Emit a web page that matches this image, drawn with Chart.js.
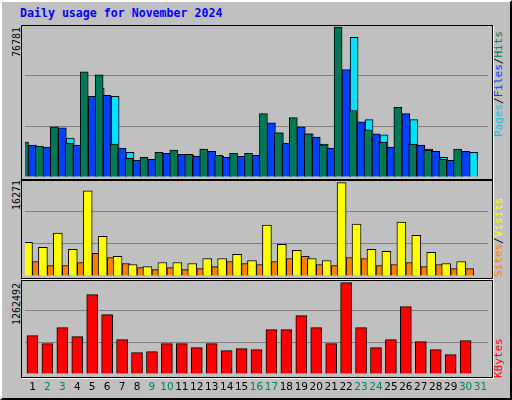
<!DOCTYPE html>
<html><head><meta charset="utf-8">
<script src="https://cdn.jsdelivr.net/npm/chart.js@4"></script>
<style>
html,body{margin:0;padding:0;background:#fff}
#wrap{position:absolute;left:0;top:0;width:508px;height:396px;background:#c0c0c0;border:2px solid #000;border-top-color:#fff;border-left-color:#fff;outline:1px solid #000}
.frame{position:absolute;left:19px;width:470px;border:1px solid #000;box-shadow:1px 1px 0 #fff}
canvas{position:absolute}
.t{position:absolute;font-family:"DejaVu Sans Mono",monospace;font-size:11px;line-height:12px;white-space:nowrap;transform-origin:0 0;transform:rotate(-90deg)}
#title{position:absolute;left:18px;top:4px;font:bold 11.6px "DejaVu Sans Mono",monospace;color:#0000ff}
</style></head><body>
<div id="wrap">
<div id="title">Daily usage for November 2024</div>
<div class="frame" style="top:23px;height:153px"></div>
<div class="frame" style="top:178px;height:97px"></div>
<div class="frame" style="top:278px;height:96px"></div>
<div class="t" style="left:9px;top:55px;font-size:10px">76781</div>
<div class="t" style="left:9px;top:208px;font-size:10px">16271</div>
<div class="t" style="left:9px;top:323px;font-size:10px">1262492</div>
<div class="t" style="left:491px;top:135px"><span style="color:#00c8e8">Pages</span><span style="color:#000">/</span><span style="color:#0040ff">Files</span><span style="color:#000">/</span><span style="color:#008060">Hits</span></div>
<div class="t" style="left:491px;top:275px"><span style="color:#ff8000">Sites</span><span style="color:#000">/</span><span style="color:#ffff00">Visits</span></div>
<div class="t" style="left:491px;top:376px;color:#ff0000">KBytes</div>
</div>
<canvas id="c1" width="470" height="153" style="left:20px;top:24px"></canvas>
<canvas id="c2" width="470" height="97" style="left:20px;top:179px"></canvas>
<canvas id="c3" width="470" height="120" style="left:20px;top:279px"></canvas>
<script>
const days = ["1","2","3","4","5","6","7","8","9","10","11","12","13","14","15","16","17","18","19","20","21","22","23","24","25","26","27","28","29","30","31"];
const weekend = [2,3,9,10,16,17,23,24,30,31];
const hits = [17890,15810,25710,17370,53850,52290,16850,9550,10080,12680,13720,11640,14240,11120,12160,12160,32480,22580,30400,22060,16330,76781,34050,24150,17890,35610,16850,13720,9030,14240,null];
const files = [16330,15290,25190,16330,41340,41860,14760,8510,9030,12160,11640,10600,13200,10070,10600,11120,27790,17370,25710,20500,14760,55060,28310,22060,15290,32480,16330,13200,8510,13200,null];
const pages = [13200,11120,19980,12680,45510,41340,12680,6950,5910,10070,11120,7990,10600,7470,9030,7470,22580,16330,22060,16850,12680,71560,29360,21540,14760,29360,14240,10070,6950,12680,null];
const sites = [5874,4993,7460,4640,14861,6931,3407,1997,1645,2350,2350,2173,3054,3054,3759,2702,8870,5522,4464,3054,2702,16271,9046,4640,4288,9398,7108,4112,2173,2526,null];
const visits = [2526,1821,1821,2350,3936,3231,2173,1469,1116,1469,1116,1292,1645,2526,2173,1997,2526,3054,3407,1997,1821,3231,3054,1821,1997,2350,1645,1997,1292,1292,null];
const kbytes = [529874,419292,640456,516051,1096609,820153,474583,294886,308709,419292,419292,364000,419292,322532,350178,336355,612810,612810,806330,640456,419292,1262492,640456,364000,474583,930735,446937,336355,267241,460760,null];

function ds(label,data,color,cp,th){return {label,data,backgroundColor:color,borderColor:'#000',borderWidth:1,borderSkipped:'bottom',categoryPercentage:cp,barThickness:th};}
function yscale(max,step){return {min:0,max:max,display:true,ticks:{display:false,stepSize:step},border:{display:false},
  grid:{drawTicks:false,color:c=>(c.tick&&c.tick.value>0&&c.tick.value<max-1)?'#808080':'rgba(0,0,0,0)',lineWidth:1}};}
function make(id,datasets,max,step,bottomPad,plugins){
  return new Chart(document.getElementById(id),{type:'bar',data:{labels:days,datasets},
    options:{responsive:false,animation:false,devicePixelRatio:1,
      layout:{padding:{left:5,right:2,top:0,bottom:bottomPad}},
      plugins:{legend:{display:false},tooltip:{enabled:false}},
      scales:{x:{display:false},y:yscale(max,step)}},plugins:plugins||[]});
}
make('c1',[ds('Hits',hits,'#007858',0.5,8),ds('Files',files,'#0040ff',0.5,8),ds('Pages',pages,'#00e0ff',0.5,8)],78337,78337/3,0);
make('c2',[ds('Sites',sites,'#ffff00',0.53,9),ds('Visits',visits,'#ff8000',0.53,8)],16905,5811,0);
const labelPlugin={id:'dayLabels',afterDraw(chart){
  const c=chart.ctx,x=chart.scales.x;c.save();c.font='10.5px "DejaVu Sans"';c.textAlign='center';c.textBaseline='middle';
  days.forEach((d,i)=>{c.fillStyle=weekend.includes(+d)?'#008060':'#000';c.fillText(d,x.getPixelForValue(i),chart.chartArea.bottom+13);});
  c.restore();}};
make('c3',[ds('KBytes',kbytes,'#ff0000',0.7,11)],1313650,442490,25,[labelPlugin]);
</script></body></html>
